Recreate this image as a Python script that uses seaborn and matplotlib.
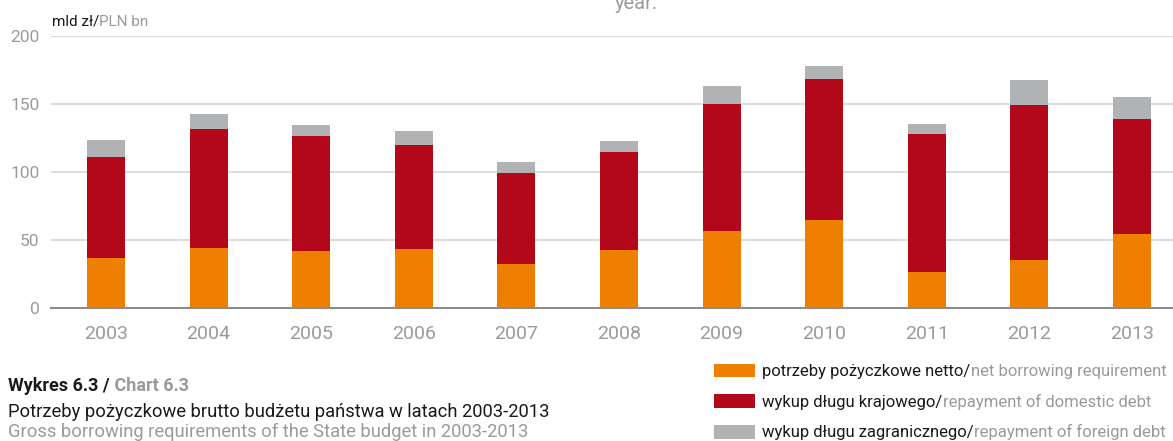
import matplotlib
matplotlib.use("Agg")
import matplotlib.pyplot as plt
import seaborn as sns
import numpy as np
import pandas as pd

# Gross borrowing requirements of the State budget, PLN bn
years = ["2003", "2004", "2005", "2006", "2007", "2008", "2009", "2010", "2011", "2012", "2013"]
net_borrowing = [37.0, 44.3, 42.1, 43.6, 32.6, 42.9, 56.8, 64.9, 26.7, 35.5, 54.6]
domestic_repayment = [74.2, 87.5, 84.6, 76.5, 66.9, 72.0, 93.4, 103.7, 101.5, 114.0, 84.6]
foreign_repayment = [12.6, 11.1, 8.1, 10.3, 8.0, 8.1, 13.3, 9.6, 7.3, 18.4, 16.2]

series_pl = ["potrzeby pożyczkowe netto/", "wykup długu krajowego/", "wykup długu zagranicznego/"]
series_en = ["net borrowing requirement", "repayment of domestic debt", "repayment of foreign debt"]
y_ticks = [0, 50, 100, 150, 200]

ORANGE = "#EE7F00"
RED = "#B20819"
GREY = "#B1B2B3"
TXT_GREY = "#9A9A9A"
TXT_DARK = "#1A1A1A"

sns.set_theme(style="white")
plt.rcParams["font.family"] = ["Roboto", "DejaVu Sans"]

df = pd.DataFrame({
    "year": years,
    "net": net_borrowing,
    "domestic": domestic_repayment,
    "foreign": foreign_repayment,
})
df["lvl1"] = df["net"]
df["lvl2"] = df["net"] + df["domestic"]
df["lvl3"] = df["lvl2"] + df["foreign"]

W, H = 1173, 441
fig = plt.figure(figsize=(W / 100, H / 100), dpi=100)
ax_w = 1131.6
ax = fig.add_axes([51.3 / W, 1 - 308.3 / H, ax_w / W, 272.0 / H])

# stacked bars: draw cumulative totals from the top layer down
bar_w = 0.37
for col, color in [("lvl3", GREY), ("lvl2", RED), ("lvl1", ORANGE)]:
    sns.barplot(data=df, x="year", y=col, color=color, saturation=1,
                width=bar_w, ax=ax, zorder=3, linewidth=0)

# category slots are slightly offset from the separator ticks
x_left = -0.533
slot = 102.6
ax.set_xlim(x_left, x_left + ax_w / slot)
ax.set_ylim(0, 200)
ax.set_yticks(y_ticks)
ax.set_xlabel("")
ax.set_ylabel("")

# grid and spines
ax.grid(axis="y", color="#DCDCDC", linewidth=1.4, zorder=0)
ax.grid(axis="x", visible=False)
for s in ["top", "right", "left"]:
    ax.spines[s].set_visible(False)
ax.spines["bottom"].set_color("#8C8C8C")
ax.spines["bottom"].set_linewidth(1.5)
ax.spines["bottom"].set_zorder(4)

ax.tick_params(axis="y", length=0, pad=8.5, labelsize=12.5, labelcolor=TXT_GREY)
ax.tick_params(axis="x", which="major", length=0, pad=12, labelsize=14, labelcolor=TXT_GREY)
ax.set_xticks(np.arange(len(years) + 1) + x_left, minor=True)
ax.tick_params(axis="x", which="minor", direction="in", length=6, width=1.5, color="#8C8C8C")

# unit label
t_unit = fig.text(52 / W, 1 - 26 / H, "mld zł/", fontsize=11, color=TXT_DARK,
                  va="baseline", ha="left")
ax.annotate("PLN bn", xy=(1, 0), xycoords=t_unit, va="bottom", ha="left",
            fontsize=11, color=TXT_GREY, annotation_clip=False, zorder=10)

# running page text at the top
fig.text(636 / W, 1 - 9 / H, "year.", fontsize=14.5, color=TXT_GREY,
         va="baseline", ha="center")

# chart caption
t_cap = fig.text(8 / W, 1 - 391 / H, "Wykres 6.3 /", fontsize=13, fontweight="bold",
                 color=TXT_DARK, va="baseline", ha="left")
ax.annotate(" Chart 6.3", xy=(1, 0), xycoords=t_cap, va="bottom", ha="left",
            fontsize=13, fontweight="bold", color=TXT_GREY,
            annotation_clip=False, zorder=10)
fig.text(8 / W, 1 - 417 / H, "Potrzeby pożyczkowe brutto budżetu państwa w latach 2003-2013",
         fontsize=13.2, color=TXT_DARK, va="baseline", ha="left")
fig.text(8 / W, 1 - 437 / H, "Gross borrowing requirements of the State budget in 2003-2013",
         fontsize=13.2, color=TXT_GREY, va="baseline", ha="left")

# legend with bilingual labels
handles = [plt.Rectangle((0, 0), 1, 1, color=c, linewidth=0) for c in (ORANGE, RED, GREY)]
leg_fs = 12.0
leg = ax.legend(handles, series_pl, loc="upper left",
                bbox_to_anchor=(714 / W, 1 - 363.5 / H), bbox_transform=fig.transFigure,
                frameon=False, fontsize=leg_fs, handlelength=2.45, handleheight=0.9,
                handletextpad=0.45, labelspacing=0.9, borderpad=0, borderaxespad=0)
for t in leg.get_texts():
    t.set_color(TXT_DARK)
for t, en in zip(leg.get_texts(), series_en):
    ax.annotate(en, xy=(1, 0), xycoords=t, va="bottom", ha="left", fontsize=leg_fs,
                color=TXT_GREY, annotation_clip=False, zorder=10)

fig.savefig("out.png", dpi=100)
